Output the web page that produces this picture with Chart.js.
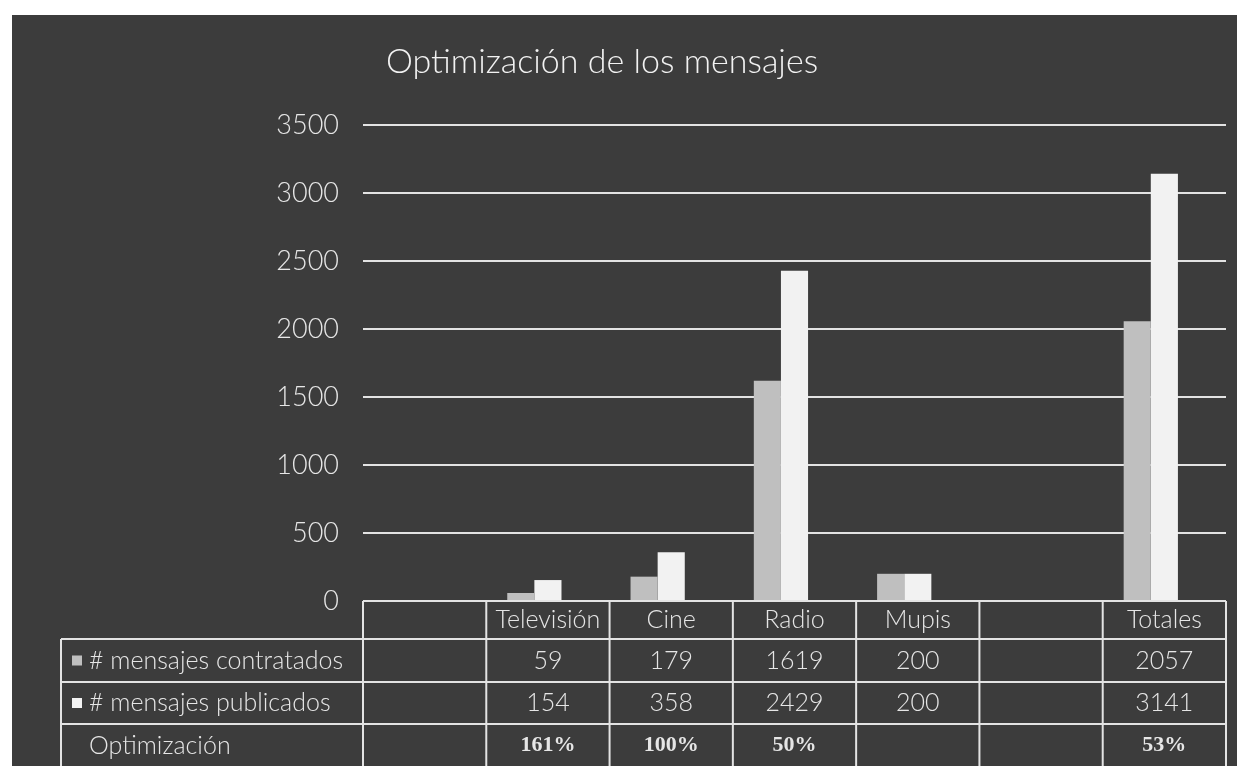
<!DOCTYPE html>
<html lang="es">
<head>
    <meta charset="UTF-8">
    <title>Optimización de los mensajes</title>
    <script src="https://cdn.jsdelivr.net/npm/chart.js"></script>
    <style>
        body { margin: 0; background: #ffffff; }
        /* fondo oscuro del grafico, con el borde blanco de la captura */
        .wrap {
            position: absolute;
            left: 12px;
            top: 15px;
            width: 1225px;
            height: 751px;
            background: #3c3c3c;
        }
    </style>
</head>
<body>
    <div class="wrap">
        <canvas id="chart1" width="1225" height="751"></canvas>
    </div>

    <script>
        // Datos
        const categorias = ['', 'Televisión', 'Cine', 'Radio', 'Mupis', '', 'Totales'];
        const contratados = [null, 59, 179, 1619, 200, null, 2057];
        const publicados = [null, 154, 358, 2429, 200, null, 3141];
        const optimizacion = [null, 1.61, 1.00, 0.50, null, null, 0.53];
        const optimizacionTexto = ['', '161%', '100%', '50%', '', '', '53%'];
        const yTicks = [0, 500, 1000, 1500, 2000, 2500, 3000, 3500];

        const titulo = 'Optimización de los mensajes';
        const filas = [
            { label: '# mensajes contratados', color: '#bfbfbf', values: contratados.map(v => v === null ? '' : String(v)) },
            { label: '# mensajes publicados', color: '#f2f2f2', values: publicados.map(v => v === null ? '' : String(v)) },
            { label: 'Optimización', color: null, values: optimizacionTexto, serif: true }
        ];

        const FONT = 'Lato, "Open Sans", sans-serif';
        const LINE = '#e3e3e3';
        const TEXTO = '#e6e6e6';

        // Tabla de datos y titulo
        const tablaPlugin = {
            id: 'tabla',
            afterDraw(chart) {
                const ctx = chart.ctx;
                const x = chart.scales.x;
                const area = chart.chartArea;
                const w = (x.getPixelForValue(1) - x.getPixelForValue(0));
                const xs = [];
                for (let i = 0; i <= categorias.length; i++) {
                    xs.push(x.getPixelForValue(0) - w / 2 + i * w);
                }
                const left = 49;
                const rows = [area.bottom, area.bottom + 38, area.bottom + 81, area.bottom + 123, area.bottom + 166];

                ctx.save();
                // titulo
                ctx.fillStyle = '#f2f2f2';
                ctx.font = '300 34px ' + FONT;
                ctx.textAlign = 'center';
                ctx.textBaseline = 'middle';
                ctx.fillText(titulo, 590, 47);

                // lineas
                ctx.strokeStyle = LINE;
                ctx.lineWidth = 2;
                ctx.beginPath();
                ctx.moveTo(xs[0], rows[0]); ctx.lineTo(xs[xs.length - 1], rows[0]);
                for (let r = 1; r < rows.length - 1; r++) {
                    ctx.moveTo(left, rows[r]); ctx.lineTo(xs[xs.length - 1], rows[r]);
                }
                xs.forEach(px => { ctx.moveTo(px, rows[0]); ctx.lineTo(px, rows[4]); });
                ctx.moveTo(left, rows[1]); ctx.lineTo(left, rows[4]);
                ctx.stroke();

                // cabecera
                ctx.fillStyle = TEXTO;
                ctx.font = '300 25px ' + FONT;
                categorias.forEach((c, i) => {
                    ctx.fillText(c, x.getPixelForValue(i), (rows[0] + rows[1]) / 2);
                });

                // filas
                filas.forEach((f, r) => {
                    const cy = (rows[r + 1] + rows[r + 2]) / 2;
                    ctx.textAlign = 'left';
                    ctx.font = '300 25px ' + FONT;
                    ctx.fillStyle = TEXTO;
                    ctx.fillText(f.label, 77, cy);
                    if (f.color) {
                        ctx.fillStyle = f.color;
                        ctx.fillRect(60, cy - 5, 10, 10);
                    }
                    ctx.textAlign = 'center';
                    ctx.fillStyle = TEXTO;
                    ctx.font = f.serif ? 'bold 22px "Liberation Serif", serif' : '300 25px ' + FONT;
                    f.values.forEach((v, i) => {
                        if (v) ctx.fillText(v, x.getPixelForValue(i), cy);
                    });
                });
                ctx.restore();
            }
        };

        new Chart(document.getElementById('chart1').getContext('2d'), {
            type: 'bar',
            data: {
                labels: categorias,
                datasets: [
                    { label: '# mensajes contratados', data: contratados, backgroundColor: '#bfbfbf' },
                    { label: '# mensajes publicados', data: publicados, backgroundColor: '#f2f2f2' },
                    { label: 'Optimización', data: optimizacion, backgroundColor: '#8c8c8c' }
                ]
            },
            options: {
                responsive: false,
                animation: false,
                layout: { padding: { top: 110, right: 11, bottom: 165, left: 0 } },
                datasets: { bar: { categoryPercentage: 0.66, barPercentage: 1 } },
                plugins: { legend: { display: false }, tooltip: { enabled: false } },
                scales: {
                    x: { display: false },
                    y: {
                        min: 0,
                        max: 3500,
                        afterFit(s) { s.width = 351; },
                        afterBuildTicks(s) { s.ticks = yTicks.map(v => ({ value: v })); },
                        border: { display: false },
                        grid: { color: LINE, lineWidth: 2, drawTicks: false },
                        ticks: {
                            color: TEXTO,
                            padding: 24,
                            font: { family: FONT, size: 27, weight: 300 },
                            callback: v => String(v)
                        }
                    }
                }
            },
            plugins: [tablaPlugin]
        });
    </script>
</body>
</html>
